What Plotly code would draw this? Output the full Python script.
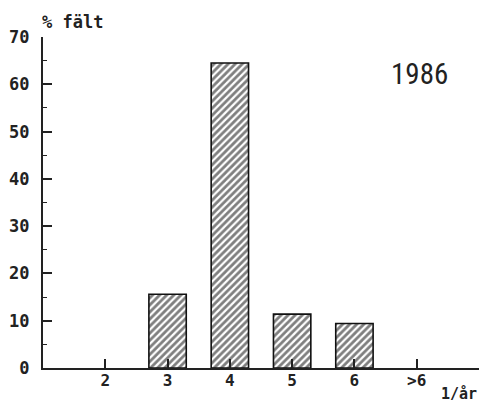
import plotly.graph_objects as go

categories = ["2", "3", "4", "5", "6", ">6"]
positions = [2, 3, 4, 5, 6, 7]
values = [0, 15.6, 64.5, 11.4, 9.4, 0]
y_ticks = [0, 10, 20, 30, 40, 50, 60, 70]

bar_x = [p for p, v in zip(positions, values) if v > 0]
bar_y = [v for v in values if v > 0]

fig = go.Figure()
fig.add_trace(go.Bar(
    x=bar_x, y=bar_y, width=0.6,
    marker=dict(
        color="white",
        line=dict(color="#111", width=1.6),
        pattern=dict(shape="/", fgcolor="#000", bgcolor="white", size=5, solidity=0.55),
    ),
    showlegend=False,
))

mono = "DejaVu Sans Mono"
fig.update_layout(
    width=483, height=403,
    margin=dict(l=43, r=4, t=37, b=35),
    paper_bgcolor="white", plot_bgcolor="white",
    xaxis=dict(
        range=[1, 8], tickmode="array",
        tickvals=positions + [8], ticktext=categories + [""],
        ticks="inside", ticklen=9, tickwidth=1.5, tickcolor="#222",
        showline=True, linecolor="#222", linewidth=2,
        showgrid=False, zeroline=False, automargin=False,
        tickfont=dict(family=mono, size=16, color="#222", weight="bold"),
        ticklabelstandoff=-3,
    ),
    yaxis=dict(
        range=[0, 70], tickmode="array", tickvals=y_ticks,
        ticks="inside", ticklen=9, tickwidth=1.5, tickcolor="#222",
        minor=dict(dtick=5, ticks="inside", ticklen=4, tickwidth=1, tickcolor="#222"),
        showline=True, linecolor="#222", linewidth=2,
        showgrid=False, zeroline=False, automargin=False,
        tickfont=dict(family=mono, size=17, color="#222", weight="bold"),
        ticklabelstandoff=8,
    ),
    annotations=[
        dict(text="<b>% fält</b>", xref="paper", yref="paper", x=0, y=1,
             xanchor="left", yanchor="bottom", yshift=3, xshift=-3, showarrow=False,
             font=dict(family=mono, size=17, color="#222")),
        dict(text="<b>1/år</b>", xref="paper", yref="paper", x=1, y=0,
             xanchor="right", yanchor="top", yshift=-15, showarrow=False,
             font=dict(family=mono, size=15, color="#222")),
        dict(text="1986", xref="paper", yref="paper", x=(419.5 - 43) / 436, y=(368 - 74) / 331,
             xanchor="center", yanchor="middle", showarrow=False,
             font=dict(family="Liberation Sans Narrow, Roboto Condensed, Liberation Sans", size=29, color="#222")),
    ],
)

fig.write_html("out.html", config={"displayModeBar": False},
               post_script="document.body.style.margin='0';")
